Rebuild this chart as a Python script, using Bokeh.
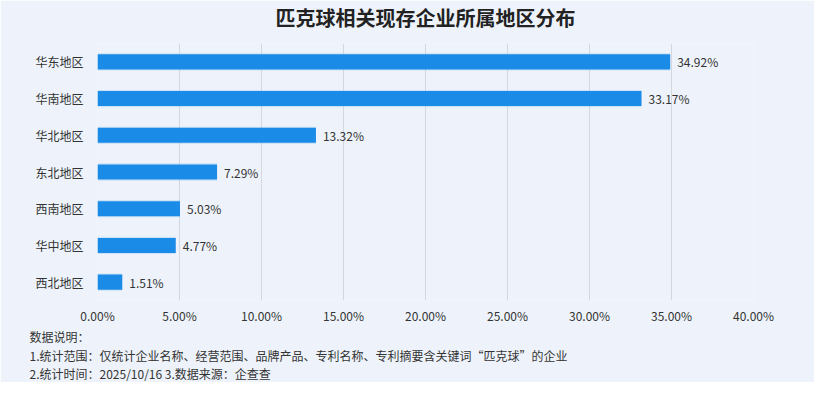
from bokeh.plotting import figure
from bokeh.models import FixedTicker, PrintfTickFormatter, Title, ColumnDataSource
from bokeh.core.properties import value
from bokeh.embed import file_html
from bokeh.resources import INLINE

regions = ["华东地区", "华南地区", "华北地区", "东北地区", "西南地区", "华中地区", "西北地区"]
shares = [34.92, 33.17, 13.32, 7.29, 5.03, 4.77, 1.51]
share_labels = ["34.92%", "33.17%", "13.32%", "7.29%", "5.03%", "4.77%", "1.51%"]
x_ticks = [0, 5, 10, 15, 20, 25, 30, 35, 40]
title_text = "匹克球相关现存企业所属地区分布"
notes = [
    "数据说明：",
    "1.统计范围：仅统计企业名称、经营范围、品牌产品、专利名称、专利摘要含关键词“匹克球”的企业",
    " 2.统计时间：2025/10/16 3.数据来源：企查查",
]

FONT = "Noto Sans CJK SC"
BG = "#eef3fb"

src = ColumnDataSource(dict(region=regions, share=shares, label=share_labels))

p = figure(
    width=814, height=382,
    y_range=list(reversed(regions)), x_range=(0, 40),
    output_backend="svg", toolbar_location=None,
    min_border_left=97, min_border_right=61, min_border_top=43, min_border_bottom=0,
)
p.background_fill_color = BG
p.border_fill_color = BG
p.outline_line_color = None

p.title.text = title_text + "\n "
p.title.align = "center"
p.title.text_font = FONT
p.title.text_font_size = "20px"
p.title.text_font_style = "bold"
p.title.text_color = "#222222"
p.title.standoff = 0
p.title.text_line_height = 0.4

# glow
p.hbar(y="region", right="share", left=0, height=0.47, source=src,
       fill_color="#8cc4f2", fill_alpha=0.35, line_color=None)
p.hbar(y="region", right="share", left=0, height=0.41, source=src,
       fill_color="#1b8be8", line_color=None)

p.text(x="share", y="region", text="label", source=src, x_offset=7,
       text_baseline="middle", text_align="left", text_font=value(FONT),
       text_font_size="12px", text_color="#333333")

p.xaxis.ticker = FixedTicker(ticks=x_ticks)
p.xaxis.formatter = PrintfTickFormatter(format="%.2f%%")
for ax in (p.xaxis, p.yaxis):
    ax.axis_line_color = None
    ax.major_tick_line_color = None
    ax.minor_tick_line_color = None
    ax.major_label_text_font = FONT
    ax.major_label_text_font_size = "12px"
    ax.major_label_text_color = "#333333"
p.xaxis.major_label_standoff = 0
p.yaxis.major_label_standoff = 8

p.xgrid.grid_line_color = "#d3d8e0"
p.xgrid.grid_line_width = 1
p.ygrid.grid_line_color = None

p.add_layout(Title(text="\n".join(notes), align="left", offset=-68, standoff=0,
                   text_font=FONT, text_font_size="12px", text_font_style="normal",
                   text_line_height=1.1, text_color="#333333"), "below")

open("out.html", "w").write(file_html(p, INLINE))
